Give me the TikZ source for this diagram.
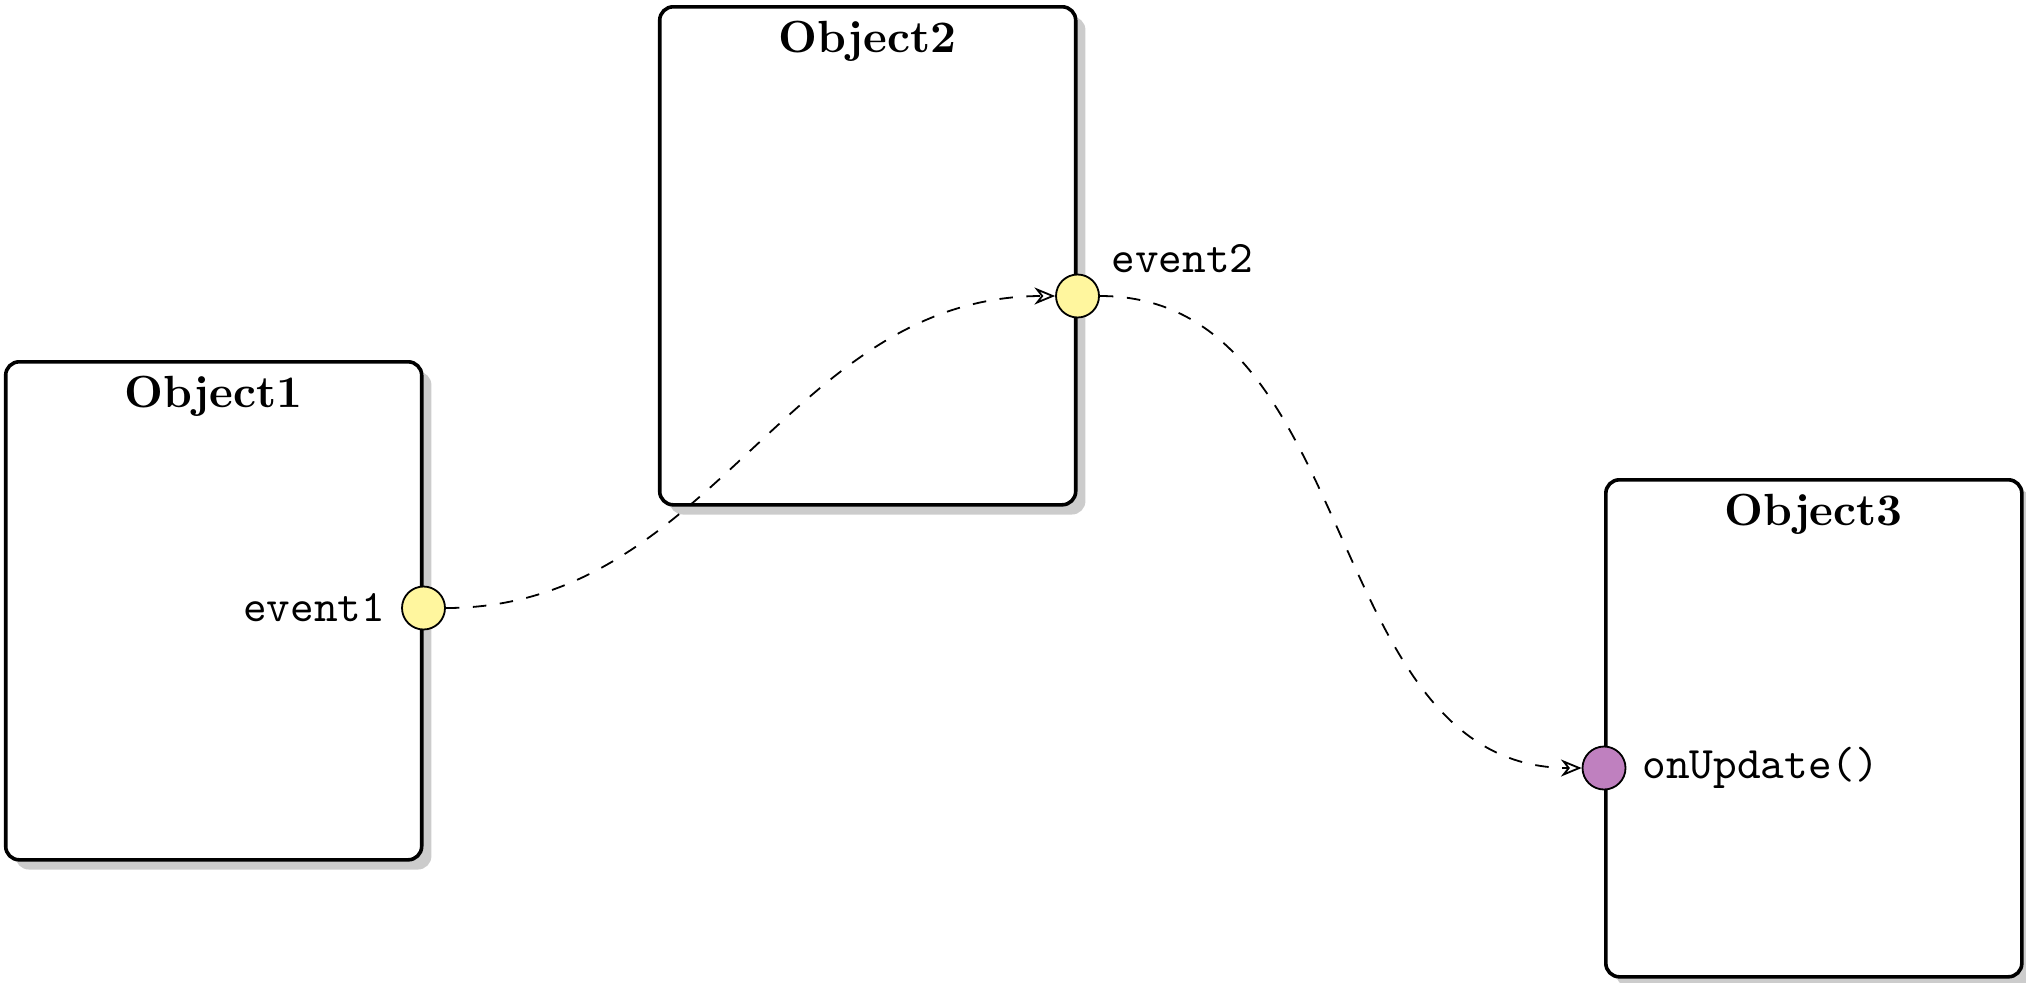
\documentclass[tikz,border=0pt]{standalone}
\usetikzlibrary{shadows,arrows.meta,calc}
\definecolor{portyellow}{RGB}{255,246,158}
\definecolor{portviolet}{RGB}{191,128,191}
\tikzset{
  objbox/.style={draw, thick, rounded corners=3pt, fill=white,
    minimum width=416*0.0078cm, minimum height=498*0.0078cm, inner sep=0pt,
    drop shadow={shadow xshift=0.5ex, shadow yshift=-0.5ex, fill=black!40, opacity=0.5}},
  objtitle/.style={anchor=north, font=\bfseries},
  port/.style={circle, draw, minimum size=43*0.0078cm, inner sep=0pt},
  inport/.style={port, fill=portviolet},
  outport/.style={port, fill=portyellow},
  portlabel/.style={font=\ttfamily},
  signal/.style={dashed, -{Stealth[open, length=4.6pt, width=3.8pt]}}
}
\begin{document}
\begin{tikzpicture}[x=0.0078cm, y=-0.0078cm]
\useasboundingbox (0,0) rectangle (2026,982);
% boxes
\node[objbox, anchor=north east] (b1) at (423.5,360) {};
\node[objbox, anchor=north east] (b2) at (1077.5,5) {};
\node[objbox, anchor=north west, minimum height=497*0.0078cm] (b3) at (1604,478) {};
\node[objtitle] (t1) at (b1.north) {Object1};
\node[objtitle] (t2) at (b2.north) {Object2};
\node[objtitle] (t3) at (b3.north) {Object3};
% ports
\node[outport] (e1) at (423.5,608) {};
\node[outport] (e2) at (1077.5,296) {};
\node[inport] (u3) at (1604,768) {};
\node[portlabel, left] (l1) at (e1.west) {event1};
\node[portlabel, anchor=base west] (l2) at ($(e2.center)+(18,-24)$) {event2};
\node[portlabel, right] (l3) at (u3.east) {onUpdate()};
% connectors
\draw[signal] (e1) to[out=0, in=180] (e2);
\draw[signal] (e2) to[out=0, in=180] (u3);
\end{tikzpicture}
\end{document}
